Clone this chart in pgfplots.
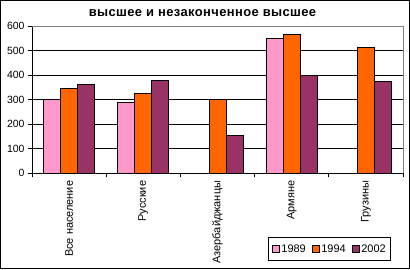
\documentclass[border=0pt]{standalone}
\usepackage{fontspec}
\setmainfont{Liberation Sans}
\usepackage{pgfplots}
\pgfplotsset{compat=1.18}
\definecolor{c89}{HTML}{FF99CC}
\definecolor{c94}{HTML}{FF6600}
\definecolor{c02}{HTML}{993366}
\pgfplotsset{sqlegend/.style={legend image code/.code={\draw[##1,line width=0.6bp] (0bp,-3.5bp) rectangle (7bp,3.5bp);}}}
\begin{document}
\begin{tikzpicture}
\path[use as bounding box] (0bp,0bp) rectangle (410bp,270bp);
\draw[black, line width=1bp] (0.5bp,1.5bp) rectangle (409.5bp,269.5bp);
\node[font=\fontsize{13}{15}\selectfont\bfseries\addfontfeature{LetterSpace=3}] at (202.5bp,257bp) {высшее и незаконченное высшее};
\begin{axis}[
  at={(32bp,96.7bp)}, anchor=south west,
  scale only axis, width=371bp, height=147bp,
  ymin=0, ymax=600, ytick={0,100,...,600},
  xmin=-0.5, xmax=4.5,
  xtick={0,...,4},
  xticklabels={Все население,Русские,Азербайджанцы,Армяне,Грузины},
  minor xtick={-0.5,0.5,...,4.5},
  major x tick style={draw=none},
  axis lines*=left,
  axis line style={black, line width=0.8bp, -},
  tick align=outside,
  major tick length=4bp, minor tick length=4bp,
  tick style={black, line width=0.8bp},
  ymajorgrids, major grid style={black, line width=0.8bp},
  /pgf/number format/assume math mode=true,
  yticklabel style={font=\fontsize{10.5}{12}\selectfont},
  xticklabel style={rotate=90, anchor=east, font=\fontsize{11}{13}\selectfont},
  ybar=0pt, bar width=17bp,
  clip=false,
  legend columns=3,
  legend style={at={(0.968,-0.597)}, anchor=south east, draw=black, line width=0.8bp,
    font=\fontsize{11}{13}\selectfont, inner xsep=3bp, inner ysep=5bp,
    /tikz/every even column/.append style={column sep=4bp}},
]
\addplot[fill=c89, draw=black, line width=0.8bp, sqlegend]
  coordinates {(0,300) (1,290) (3,549)};
\addplot[fill=c94, draw=black, line width=0.8bp, sqlegend]
  coordinates {(0,346) (1,327) (2,300) (3,567) (4,514)};
\addplot[fill=c02, draw=black, line width=0.8bp, sqlegend]
  coordinates {(0,363) (1,380) (2,155) (3,398) (4,375)};
\legend{1989,1994,2002}
\draw[gray, line width=0.8bp] (rel axis cs:0,1) -- (rel axis cs:1,1) -- (rel axis cs:1,0);
\end{axis}
\end{tikzpicture}
\end{document}
